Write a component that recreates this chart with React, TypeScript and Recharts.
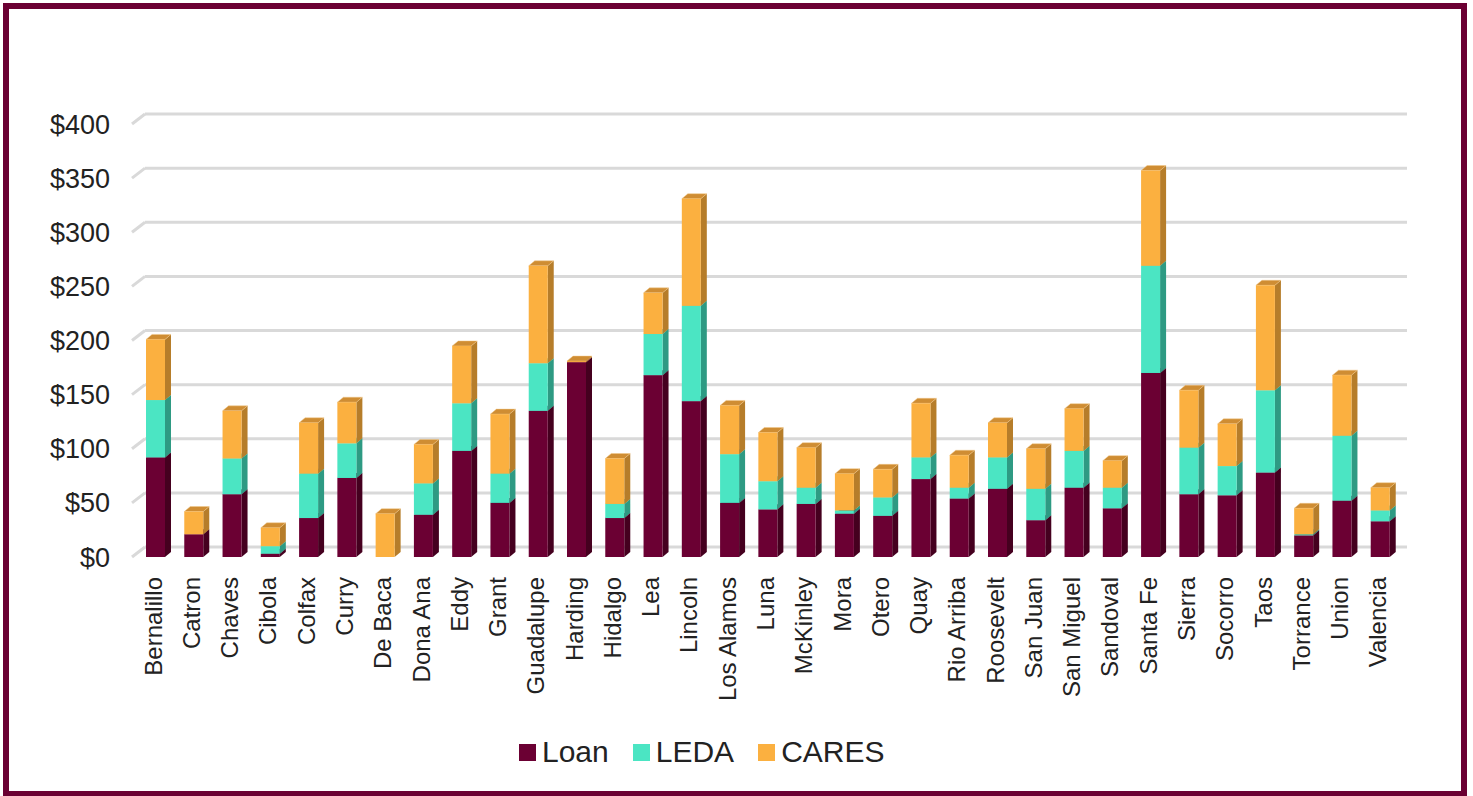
import React from 'react';
import { BarChart, Bar, XAxis, YAxis, CartesianGrid, Legend } from 'recharts';

const counties = [
  'Bernalillo', 'Catron', 'Chaves', 'Cibola', 'Colfax', 'Curry', 'De Baca', 'Dona Ana', 'Eddy', 'Grant',
  'Guadalupe', 'Harding', 'Hidalgo', 'Lea', 'Lincoln', 'Los Alamos', 'Luna', 'McKinley', 'Mora', 'Otero',
  'Quay', 'Rio Arriba', 'Roosevelt', 'San Juan', 'San Miguel', 'Sandoval', 'Santa Fe', 'Sierra', 'Socorro', 'Taos',
  'Torrance', 'Union', 'Valencia',
];
const loan = [92, 21, 58, 3, 36, 73, 0, 39, 98, 50, 135, 180, 36, 168, 144, 50, 44, 49, 40, 38, 72, 54, 63, 34, 64, 45, 170, 58, 57, 78, 20, 52, 33];
const leda = [53, 0, 33, 7, 41, 32, 0, 29, 44, 27, 44, 0, 13, 38, 88, 45, 26, 15, 3, 17, 20, 10, 29, 29, 34, 19, 99, 43, 27, 76, 1, 60, 10];
const cares = [56, 21, 44, 17, 47, 38, 40, 36, 53, 55, 90, 1, 42, 38, 99, 45, 45, 37, 34, 26, 50, 30, 32, 37, 39, 25, 88, 53, 39, 97, 24, 56, 21];
const yTicks = [0, 50, 100, 150, 200, 250, 300, 350, 400];

const data = counties.map((name, i) => ({ name, Loan: loan[i], LEDA: leda[i], CARES: cares[i] }));

const FONT = '"Liberation Sans", Arial, sans-serif';
const MAROON = '#6b0033';
const colors = {
  Loan: { front: MAROON, side: '#45001f', top: '#55002a' },
  LEDA: { front: '#4be5c3', side: '#2e9a83', top: '#3cc3a5' },
  CARES: { front: '#fbb040', side: '#b67d2a', top: '#cf8d33' },
};
const DX = 6;
const DY = 5;

const make3D = (c: { front: string; side: string; top: string }) => (props: any) => {
  const { x, y, width, height } = props;
  if (!height || height <= 0) return <g />;
  return (
    <g>
      <polygon
        points={`${x + width},${y} ${x + width + DX},${y - DY} ${x + width + DX},${y + height - DY} ${x + width},${y + height}`}
        fill={c.side}
      />
      <polygon
        points={`${x},${y} ${x + DX},${y - DY} ${x + width + DX},${y - DY} ${x + width},${y}`}
        fill={c.top}
        stroke="#f3c98a"
        strokeOpacity={c === colors.CARES ? 0.6 : 0}
        strokeWidth={0.8}
      />
      <rect x={x} y={y} width={width} height={height} fill={c.front} />
    </g>
  );
};

const GridLine = (props: any) => {
  const { x1, x2, y1 } = props;
  return (
    <g key={props.key ?? y1}>
      <line x1={x1 - 4} y1={y1} x2={x1 + 9} y2={y1 - 10} stroke="#d9d9d9" strokeWidth={3} />
      <line x1={x1 + 9} y1={y1 - 10} x2={x2 + 8} y2={y1 - 10} stroke="#d9d9d9" strokeWidth={3} />
    </g>
  );
};

const XTick = (props: any) => {
  const { x, y, payload } = props;
  return (
    <text
      transform={`translate(${x - 2},${y + 18}) rotate(-90)`}
      textAnchor="end"
      dominantBaseline="central"
      fontSize={24}
      fontFamily={FONT}
      fill="#222"
    >
      {payload.value}
    </text>
  );
};

const LegendContent = () => {
  const items = [
    { label: 'Loan', color: colors.Loan.front },
    { label: 'LEDA', color: colors.LEDA.front },
    { label: 'CARES', color: colors.CARES.front },
  ];
  return (
    <div style={{ display: 'flex', alignItems: 'center', height: 40, fontFamily: FONT, fontSize: 30, color: '#222' }}>
      {items.map((it) => (
        <div key={it.label} style={{ display: 'flex', alignItems: 'center', marginRight: 24 }}>
          <span style={{ width: 17, height: 17, background: it.color, display: 'inline-block', marginRight: 6 }} />
          <span>{it.label}</span>
        </div>
      ))}
    </div>
  );
};

export default function App() {
  return (
    <div
      style={{
        position: 'absolute',
        left: 3,
        top: 3,
        width: 1464,
        height: 794,
        border: `6px solid ${MAROON}`,
        boxSizing: 'border-box',
        background: '#fff',
      }}
    >
      <BarChart
        width={1452}
        height={782}
        data={data}
        margin={{ top: 115, right: 62, bottom: 19, left: 0 }}
        barSize={19}
      >
        <CartesianGrid vertical={false} horizontal={GridLine} />
        <XAxis
          dataKey="name"
          interval={0}
          axisLine={false}
          tickLine={false}
          tickSize={0}
          height={175}
          tick={XTick}
        />
        <YAxis
          width={127}
          domain={[0, 400]}
          ticks={yTicks}
          axisLine={false}
          tickLine={false}
          tickSize={0}
          tickMargin={26}
          tickFormatter={(v) => `$${v}`}
          tick={{ fontSize: 27, fontFamily: FONT, fill: '#222' }}
        />
        <Legend
          verticalAlign="bottom"
          align="left"
          height={40}
          wrapperStyle={{ left: 510, width: 420, bottom: 19 }}
          content={LegendContent}
        />
        <Bar dataKey="Loan" stackId="a" fill={colors.Loan.front} shape={make3D(colors.Loan)} isAnimationActive={false} />
        <Bar dataKey="LEDA" stackId="a" fill={colors.LEDA.front} shape={make3D(colors.LEDA)} isAnimationActive={false} />
        <Bar dataKey="CARES" stackId="a" fill={colors.CARES.front} shape={make3D(colors.CARES)} isAnimationActive={false} />
      </BarChart>
    </div>
  );
}
